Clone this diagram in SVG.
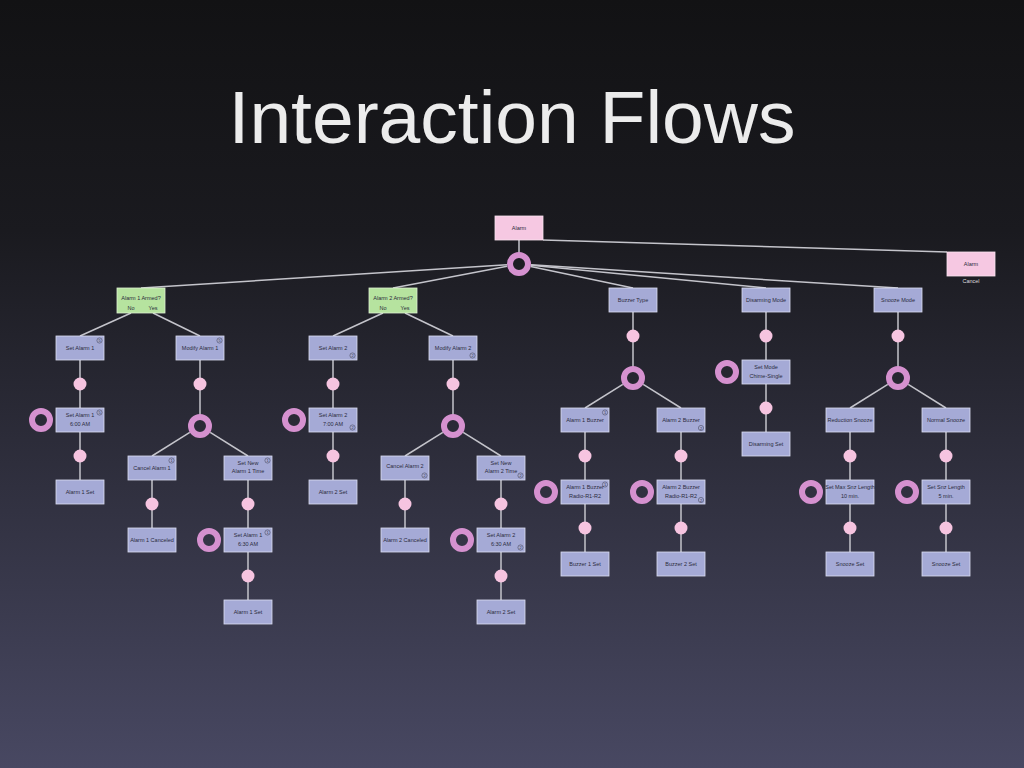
<svg xmlns="http://www.w3.org/2000/svg" width="1024" height="768" viewBox="0 0 1024 768">
<defs>
<linearGradient id="bg" x1="0" y1="0" x2="0" y2="1">
<stop offset="0" stop-color="#121214"/>
<stop offset="0.3" stop-color="#1a1a1f"/>
<stop offset="1" stop-color="#484862"/>
</linearGradient>
<style>
.box{fill:#a5aad6;stroke:#dcdff2;stroke-width:0.8}
.grn{fill:#b6e39f;stroke:#dff3d2;stroke-width:0.8}
.pnk{fill:#f6c8e2;stroke:#fbe3f0;stroke-width:0.8}
.t{font-family:"Liberation Sans",Arial,sans-serif;font-size:5.5px;fill:#2b2b3c;text-anchor:middle}
.lbl{font-family:"Liberation Sans",Arial,sans-serif;font-size:5.5px;fill:#dddddd;text-anchor:middle}
.ic{fill:none;stroke:#3a3a4c;stroke-width:0.5}
.it{font-family:"Liberation Sans",Arial,sans-serif;font-size:4px;fill:#3a3a4c;text-anchor:middle}
.ln{stroke:#c4c4cb;stroke-width:1.5;fill:none}
.dot{fill:#f6c4e0}
.ring{fill:none;stroke:#d591cf;stroke-width:6}
.title{font-family:"Liberation Sans",Arial,sans-serif;font-size:75px;fill:#ececec;text-anchor:middle}
</style>
</defs>
<rect width="1024" height="768" fill="url(#bg)"/>
<text class="title" x="512" y="143">Interaction Flows</text>

<g id="connectors">
<line class="ln" x1="543" y1="240" x2="947" y2="252"/>
<line class="ln" x1="519" y1="240" x2="519" y2="253"/>
<line class="ln" x1="507" y1="264.8" x2="141" y2="288"/>
<line class="ln" x1="507.2" y1="266.2" x2="393" y2="288"/>
<line class="ln" x1="530.7" y1="266.5" x2="633" y2="288"/>
<line class="ln" x1="530.9" y1="265.2" x2="766" y2="288"/>
<line class="ln" x1="531" y1="264.8" x2="898" y2="288"/>
<line class="ln" x1="131" y1="313" x2="80" y2="336"/>
<line class="ln" x1="153" y1="313" x2="200" y2="336"/>
<line class="ln" x1="383" y1="313" x2="333" y2="336"/>
<line class="ln" x1="405" y1="313" x2="453" y2="336"/>
<line class="ln" x1="80" y1="360" x2="80" y2="408"/>
<line class="ln" x1="80" y1="432" x2="80" y2="480"/>
<line class="ln" x1="200" y1="360" x2="200" y2="415"/>
<line class="ln" x1="189.8" y1="432.4" x2="152" y2="456"/>
<line class="ln" x1="210.2" y1="432.4" x2="248" y2="456"/>
<line class="ln" x1="152" y1="480" x2="152" y2="528"/>
<line class="ln" x1="248" y1="480" x2="248" y2="528"/>
<line class="ln" x1="248" y1="552" x2="248" y2="600"/>
<line class="ln" x1="333" y1="360" x2="333" y2="408"/>
<line class="ln" x1="333" y1="432" x2="333" y2="480"/>
<line class="ln" x1="453" y1="360" x2="453" y2="415"/>
<line class="ln" x1="442.8" y1="432.4" x2="405" y2="456"/>
<line class="ln" x1="463.2" y1="432.4" x2="501" y2="456"/>
<line class="ln" x1="405" y1="480" x2="405" y2="528"/>
<line class="ln" x1="501" y1="480" x2="501" y2="528"/>
<line class="ln" x1="501" y1="552" x2="501" y2="600"/>
<line class="ln" x1="633" y1="312" x2="633" y2="367"/>
<line class="ln" x1="622.8" y1="384.4" x2="585" y2="408"/>
<line class="ln" x1="643.2" y1="384.4" x2="681" y2="408"/>
<line class="ln" x1="585" y1="432" x2="585" y2="480"/>
<line class="ln" x1="585" y1="504" x2="585" y2="552"/>
<line class="ln" x1="681" y1="432" x2="681" y2="480"/>
<line class="ln" x1="681" y1="504" x2="681" y2="552"/>
<line class="ln" x1="766" y1="312" x2="766" y2="360"/>
<line class="ln" x1="766" y1="384" x2="766" y2="432"/>
<line class="ln" x1="898" y1="312" x2="898" y2="367"/>
<line class="ln" x1="887.8" y1="384.4" x2="850" y2="408"/>
<line class="ln" x1="908.2" y1="384.4" x2="946" y2="408"/>
<line class="ln" x1="850" y1="432" x2="850" y2="480"/>
<line class="ln" x1="850" y1="504" x2="850" y2="552"/>
<line class="ln" x1="946" y1="432" x2="946" y2="480"/>
<line class="ln" x1="946" y1="504" x2="946" y2="552"/>
</g>

<g id="markers">
<circle class="ring" cx="519" cy="264" r="9"/>
<circle class="dot" cx="80" cy="384" r="6.5"/>
<circle class="dot" cx="200" cy="384" r="6.5"/>
<circle class="ring" cx="41" cy="420" r="9"/>
<circle class="ring" cx="200" cy="426" r="9"/>
<circle class="dot" cx="80" cy="456" r="6.5"/>
<circle class="dot" cx="152" cy="504" r="6.5"/>
<circle class="dot" cx="248" cy="504" r="6.5"/>
<circle class="ring" cx="209" cy="540" r="9"/>
<circle class="dot" cx="248" cy="576" r="6.5"/>
<circle class="dot" cx="333" cy="384" r="6.5"/>
<circle class="dot" cx="453" cy="384" r="6.5"/>
<circle class="ring" cx="294" cy="420" r="9"/>
<circle class="ring" cx="453" cy="426" r="9"/>
<circle class="dot" cx="333" cy="456" r="6.5"/>
<circle class="dot" cx="405" cy="504" r="6.5"/>
<circle class="dot" cx="501" cy="504" r="6.5"/>
<circle class="ring" cx="462" cy="540" r="9"/>
<circle class="dot" cx="501" cy="576" r="6.5"/>
<circle class="dot" cx="633" cy="336" r="6.5"/>
<circle class="ring" cx="633" cy="378" r="9"/>
<circle class="dot" cx="585" cy="456" r="6.5"/>
<circle class="dot" cx="681" cy="456" r="6.5"/>
<circle class="ring" cx="546" cy="492" r="9"/>
<circle class="ring" cx="642" cy="492" r="9"/>
<circle class="dot" cx="585" cy="528" r="6.5"/>
<circle class="dot" cx="681" cy="528" r="6.5"/>
<circle class="dot" cx="766" cy="336" r="6.5"/>
<circle class="ring" cx="727" cy="372" r="9"/>
<circle class="dot" cx="766" cy="408" r="6.5"/>
<circle class="dot" cx="898" cy="336" r="6.5"/>
<circle class="ring" cx="898" cy="378" r="9"/>
<circle class="dot" cx="850" cy="456" r="6.5"/>
<circle class="dot" cx="946" cy="456" r="6.5"/>
<circle class="ring" cx="811" cy="492" r="9"/>
<circle class="ring" cx="907" cy="492" r="9"/>
<circle class="dot" cx="850" cy="528" r="6.5"/>
<circle class="dot" cx="946" cy="528" r="6.5"/>
</g>

<g id="n-alarm"><rect class="pnk" x="495" y="216" width="48" height="24"/><text class="t" x="519" y="230">Alarm</text></g>
<g id="n-alarm-cancel"><rect class="pnk" x="947" y="252" width="48" height="24"/><text class="t" x="971" y="266">Alarm</text><text class="lbl" x="971" y="283">Cancel</text></g>

<g id="n-a1armed"><rect class="grn" x="117" y="288" width="48" height="25"/><text class="t" x="141" y="300">Alarm 1 Armed?</text><text class="t" x="131" y="310">No</text><text class="t" x="153" y="310">Yes</text></g>
<g id="n-a2armed"><rect class="grn" x="369" y="288" width="48" height="25"/><text class="t" x="393" y="300">Alarm 2 Armed?</text><text class="t" x="383" y="310">No</text><text class="t" x="405" y="310">Yes</text></g>

<g id="n-set1"><rect class="box" x="56" y="336" width="48" height="24"/><text class="t" x="80" y="350">Set Alarm 1</text><circle class="ic" cx="99.5" cy="340.5" r="2.6"/><text class="it" x="99.5" y="342">5</text></g>
<g id="n-mod1"><rect class="box" x="176" y="336" width="48" height="24"/><text class="t" x="200" y="350">Modify Alarm 1</text><circle class="ic" cx="219.5" cy="340.5" r="2.6"/><text class="it" x="219.5" y="342">5</text></g>
<g id="n-set1t"><rect class="box" x="56" y="408" width="48" height="24"/><text class="t" x="80" y="417">Set Alarm 1</text><text class="t" x="80" y="426">6:00 AM</text><circle class="ic" cx="99.5" cy="412.5" r="2.6"/><text class="it" x="99.5" y="414">5</text></g>
<g id="n-a1set"><rect class="box" x="56" y="480" width="48" height="24"/><text class="t" x="80" y="494">Alarm 1 Set</text></g>
<g id="n-cancel1"><rect class="box" x="128" y="456" width="48" height="24"/><text class="t" x="152" y="470">Cancel Alarm 1</text><circle class="ic" cx="171.5" cy="460.5" r="2.6"/><text class="it" x="171.5" y="462">1</text></g>
<g id="n-setnew1"><rect class="box" x="224" y="456" width="48" height="24"/><text class="t" x="248" y="465">Set New</text><text class="t" x="248" y="473">Alarm 1 Time</text><circle class="ic" cx="267.5" cy="460.5" r="2.6"/><text class="it" x="267.5" y="462">1</text></g>
<g id="n-a1canceled"><rect class="box" x="128" y="528" width="48" height="24"/><text class="t" x="152" y="542">Alarm 1 Canceled</text></g>
<g id="n-set1b"><rect class="box" x="224" y="528" width="48" height="24"/><text class="t" x="248" y="537">Set Alarm 1</text><text class="t" x="248" y="546">6:30 AM</text><circle class="ic" cx="267.5" cy="532.5" r="2.6"/><text class="it" x="267.5" y="534">1</text></g>
<g id="n-a1set2"><rect class="box" x="224" y="600" width="48" height="24"/><text class="t" x="248" y="614">Alarm 1 Set</text></g>

<g id="n-set2"><rect class="box" x="309" y="336" width="48" height="24"/><text class="t" x="333" y="350">Set Alarm 2</text><circle class="ic" cx="352.5" cy="355.5" r="2.6"/><text class="it" x="352.5" y="357">2</text></g>
<g id="n-mod2"><rect class="box" x="429" y="336" width="48" height="24"/><text class="t" x="453" y="350">Modify Alarm 2</text><circle class="ic" cx="472.5" cy="355.5" r="2.6"/><text class="it" x="472.5" y="357">2</text></g>
<g id="n-set2t"><rect class="box" x="309" y="408" width="48" height="24"/><text class="t" x="333" y="417">Set Alarm 2</text><text class="t" x="333" y="426">7:00 AM</text><circle class="ic" cx="352.5" cy="427.5" r="2.6"/><text class="it" x="352.5" y="429">2</text></g>
<g id="n-a2set"><rect class="box" x="309" y="480" width="48" height="24"/><text class="t" x="333" y="494">Alarm 2 Set</text></g>
<g id="n-cancel2"><rect class="box" x="381" y="456" width="48" height="24"/><text class="t" x="405" y="468">Cancel Alarm 2</text><circle class="ic" cx="424.5" cy="475.5" r="2.6"/><text class="it" x="424.5" y="477">2</text></g>
<g id="n-setnew2"><rect class="box" x="477" y="456" width="48" height="24"/><text class="t" x="501" y="465">Set New</text><text class="t" x="501" y="473">Alarm 2 Time</text><circle class="ic" cx="520.5" cy="475.5" r="2.6"/><text class="it" x="520.5" y="477">2</text></g>
<g id="n-a2canceled"><rect class="box" x="381" y="528" width="48" height="24"/><text class="t" x="405" y="542">Alarm 2 Canceled</text></g>
<g id="n-set2b"><rect class="box" x="477" y="528" width="48" height="24"/><text class="t" x="501" y="537">Set Alarm 2</text><text class="t" x="501" y="546">6:30 AM</text><circle class="ic" cx="520.5" cy="547.5" r="2.6"/><text class="it" x="520.5" y="549">2</text></g>
<g id="n-a2set2"><rect class="box" x="477" y="600" width="48" height="24"/><text class="t" x="501" y="614">Alarm 2 Set</text></g>

<g id="n-buzzer"><rect class="box" x="609" y="288" width="48" height="24"/><text class="t" x="633" y="302">Buzzer Type</text></g>
<g id="n-b1"><rect class="box" x="561" y="408" width="48" height="24"/><text class="t" x="585" y="422">Alarm 1 Buzzer</text><circle class="ic" cx="605" cy="412.5" r="2.6"/><text class="it" x="605" y="414">1</text></g>
<g id="n-b2"><rect class="box" x="657" y="408" width="48" height="24"/><text class="t" x="681" y="422">Alarm 2 Buzzer</text><circle class="ic" cx="701" cy="428" r="2.6"/><text class="it" x="701" y="429.5">2</text></g>
<g id="n-b1r"><rect class="box" x="561" y="480" width="48" height="24"/><text class="t" x="585" y="489">Alarm 1 Buzzer</text><text class="t" x="585" y="498">Radio-R1-R2</text><circle class="ic" cx="605" cy="484.5" r="2.6"/><text class="it" x="605" y="486">1</text></g>
<g id="n-b2r"><rect class="box" x="657" y="480" width="48" height="24"/><text class="t" x="681" y="489">Alarm 2 Buzzer</text><text class="t" x="681" y="498">Radio-R1-R2</text><circle class="ic" cx="701" cy="500" r="2.6"/><text class="it" x="701" y="501.5">2</text></g>
<g id="n-b1set"><rect class="box" x="561" y="552" width="48" height="24"/><text class="t" x="585" y="566">Buzzer 1 Set</text></g>
<g id="n-b2set"><rect class="box" x="657" y="552" width="48" height="24"/><text class="t" x="681" y="566">Buzzer 2 Set</text></g>

<g id="n-dmode"><rect class="box" x="742" y="288" width="48" height="24"/><text class="t" x="766" y="302">Disarming Mode</text></g>
<g id="n-setmode"><rect class="box" x="742" y="360" width="48" height="24"/><text class="t" x="766" y="369">Set Mode</text><text class="t" x="766" y="378">Chime-Single</text></g>
<g id="n-dset"><rect class="box" x="742" y="432" width="48" height="24"/><text class="t" x="766" y="446">Disarming Set</text></g>

<g id="n-smode"><rect class="box" x="874" y="288" width="48" height="24"/><text class="t" x="898" y="302">Snooze Mode</text></g>
<g id="n-red"><rect class="box" x="826" y="408" width="48" height="24"/><text class="t" x="850" y="422">Reduction Snooze</text></g>
<g id="n-norm"><rect class="box" x="922" y="408" width="48" height="24"/><text class="t" x="946" y="422">Normal Snooze</text></g>
<g id="n-setmax"><rect class="box" x="826" y="480" width="48" height="24"/><text class="t" x="850" y="489">Set Max Snz Length</text><text class="t" x="850" y="498">10 min.</text></g>
<g id="n-setsnz"><rect class="box" x="922" y="480" width="48" height="24"/><text class="t" x="946" y="489">Set Snz Length</text><text class="t" x="946" y="498">5 min.</text></g>
<g id="n-sset1"><rect class="box" x="826" y="552" width="48" height="24"/><text class="t" x="850" y="566">Snooze Set</text></g>
<g id="n-sset2"><rect class="box" x="922" y="552" width="48" height="24"/><text class="t" x="946" y="566">Snooze Set</text></g>
</svg>
